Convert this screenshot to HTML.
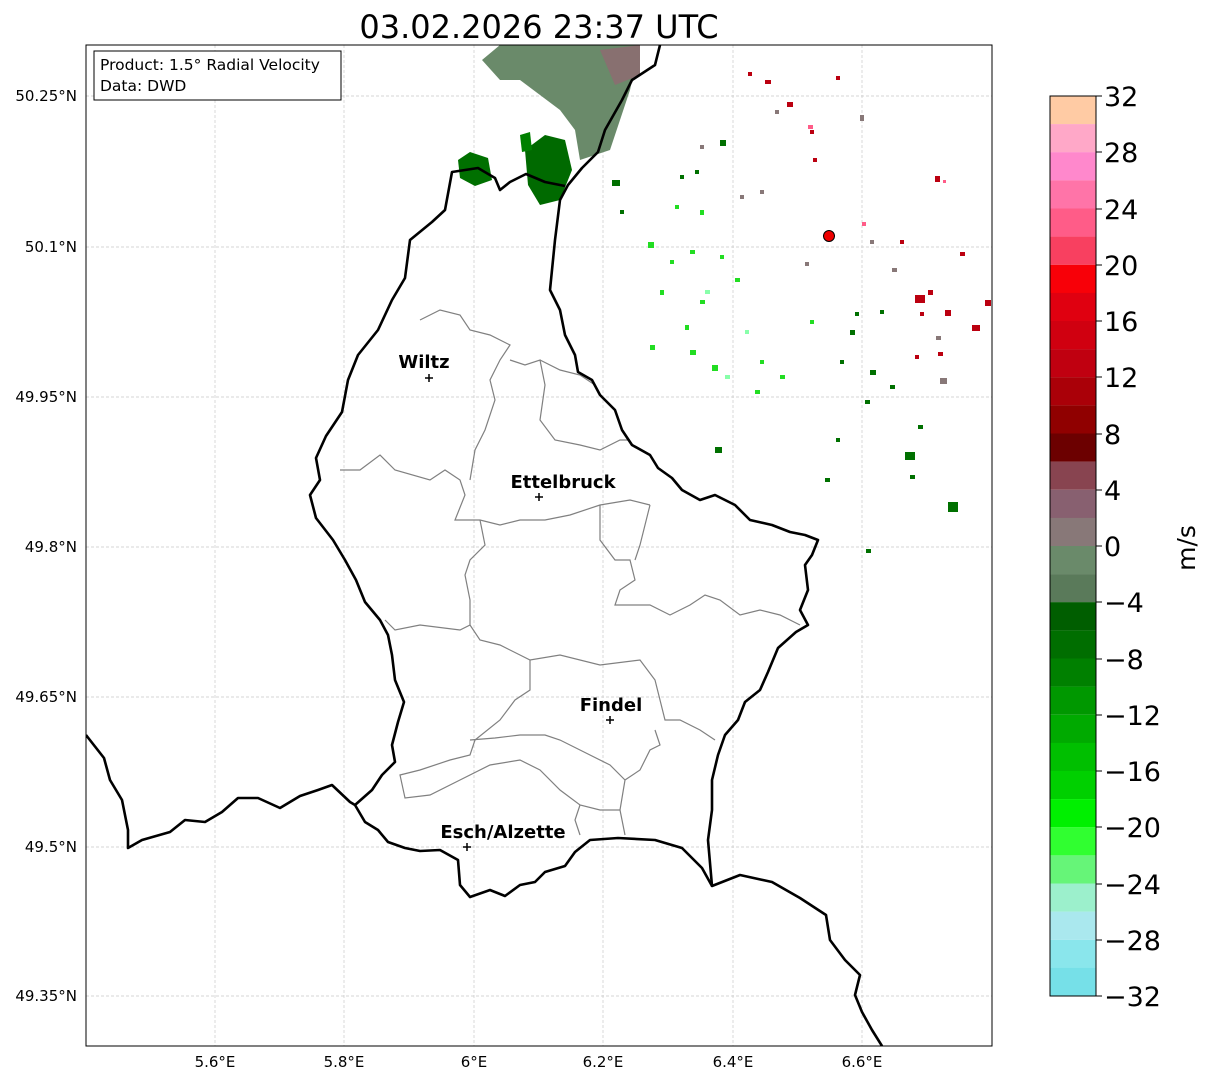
<!DOCTYPE html>
<html><head><meta charset="utf-8"><style>
body{margin:0;background:#fff;}
svg{display:block;font-family:"DejaVu Sans","Liberation Sans",sans-serif;}
</style></head><body>
<svg width="1207" height="1081" viewBox="0 0 1207 1081" xmlns="http://www.w3.org/2000/svg">
<rect width="1207" height="1081" fill="#fff"/>
<text x="539" y="38" font-size="32" text-anchor="middle">03.02.2026 23:37 UTC</text>
<defs><clipPath id="c"><rect x="86" y="45" width="906" height="1001"/></clipPath></defs>
<g clip-path="url(#c)">
<g stroke="#c8c8c8" stroke-width="0.7" stroke-dasharray="3,2">
<line x1="215" y1="45" x2="215" y2="1046"/><line x1="344" y1="45" x2="344" y2="1046"/><line x1="474" y1="45" x2="474" y2="1046"/><line x1="603" y1="45" x2="603" y2="1046"/><line x1="733" y1="45" x2="733" y2="1046"/><line x1="862" y1="45" x2="862" y2="1046"/>
<line x1="86" y1="96" x2="992" y2="96"/><line x1="86" y1="247" x2="992" y2="247"/><line x1="86" y1="397" x2="992" y2="397"/><line x1="86" y1="547" x2="992" y2="547"/><line x1="86" y1="697" x2="992" y2="697"/><line x1="86" y1="847" x2="992" y2="847"/><line x1="86" y1="996" x2="992" y2="996"/>
</g>
<g>
<path d="M482,60 L500,45 L640,45 L630,90 L620,120 L610,150 L580,160 L575,130 L560,110 L520,80 L500,80 Z" fill="#6a8a6a"/>
<path d="M600,50 L640,45 L640,75 L615,85 Z" fill="#887070"/>
<path d="M458,160 L470,152 L488,158 L492,180 L475,186 L460,178 Z" fill="#007000"/>
<path d="M525,150 L545,135 L565,140 L572,170 L560,200 L540,205 L528,185 Z" fill="#006a00"/>
<path d="M520,135 L530,132 L532,150 L522,152 Z" fill="#008000"/>
</g>
<g fill="#22dd22">
<rect x="648" y="242" width="6" height="6"/><rect x="690" y="250" width="5" height="4"/><rect x="660" y="290" width="4" height="5"/><rect x="700" y="300" width="5" height="4"/><rect x="685" y="325" width="4" height="5"/><rect x="650" y="345" width="5" height="5"/><rect x="712" y="365" width="6" height="6"/><rect x="755" y="390" width="5" height="4"/><rect x="720" y="255" width="4" height="4"/><rect x="735" y="278" width="5" height="4"/><rect x="670" y="260" width="4" height="4"/><rect x="760" y="360" width="4" height="4"/><rect x="690" y="350" width="6" height="5"/><rect x="780" y="375" width="5" height="4"/><rect x="700" y="210" width="4" height="5"/><rect x="675" y="205" width="4" height="4"/><rect x="810" y="320" width="4" height="4"/>
</g>
<g fill="#88ffaa"><rect x="705" y="290" width="5" height="4"/><rect x="725" y="375" width="5" height="4"/><rect x="745" y="330" width="4" height="4"/></g>
<g fill="#007000">
<rect x="612" y="180" width="8" height="6"/><rect x="850" y="330" width="5" height="5"/><rect x="870" y="370" width="6" height="5"/><rect x="905" y="452" width="10" height="8"/><rect x="948" y="502" width="10" height="10"/><rect x="715" y="447" width="7" height="6"/><rect x="890" y="385" width="5" height="4"/><rect x="865" y="400" width="5" height="4"/><rect x="840" y="360" width="4" height="4"/><rect x="880" y="310" width="4" height="4"/><rect x="918" y="425" width="5" height="4"/><rect x="825" y="478" width="5" height="4"/><rect x="866" y="549" width="5" height="4"/><rect x="910" y="475" width="5" height="4"/><rect x="720" y="140" width="6" height="6"/><rect x="680" y="175" width="4" height="4"/><rect x="695" y="170" width="4" height="4"/><rect x="620" y="210" width="4" height="4"/><rect x="855" y="312" width="4" height="4"/><rect x="836" y="438" width="4" height="4"/>
</g>
<g fill="#887878">
<rect x="940" y="378" width="7" height="6"/><rect x="892" y="268" width="5" height="4"/><rect x="936" y="336" width="5" height="4"/><rect x="775" y="110" width="4" height="4"/><rect x="860" y="115" width="4" height="6"/><rect x="700" y="145" width="4" height="4"/><rect x="760" y="190" width="4" height="4"/><rect x="805" y="262" width="4" height="4"/><rect x="870" y="240" width="4" height="4"/><rect x="740" y="195" width="4" height="4"/>
</g>
<g fill="#bb0010">
<rect x="765" y="80" width="6" height="4"/><rect x="787" y="102" width="6" height="5"/><rect x="935" y="176" width="5" height="6"/><rect x="915" y="295" width="10" height="8"/><rect x="972" y="325" width="8" height="6"/><rect x="945" y="310" width="6" height="6"/><rect x="900" y="240" width="4" height="4"/><rect x="960" y="252" width="5" height="4"/><rect x="810" y="130" width="4" height="4"/><rect x="813" y="158" width="4" height="4"/><rect x="920" y="312" width="4" height="4"/><rect x="985" y="300" width="6" height="6"/><rect x="928" y="290" width="5" height="5"/><rect x="938" y="352" width="5" height="4"/><rect x="915" y="355" width="4" height="4"/><rect x="836" y="76" width="4" height="4"/><rect x="748" y="72" width="4" height="4"/>
</g>
<g fill="#ff5c88"><rect x="808" y="125" width="5" height="4"/><rect x="862" y="222" width="4" height="4"/><rect x="943" y="180" width="3" height="3"/></g>
<circle cx="829" cy="236" r="5.5" fill="#e00" stroke="#000" stroke-width="1"/>
<g fill="none" stroke="#808080" stroke-width="1.2">
<path d="M340,470 L360,470 L380,455 L395,470 L430,480 L445,470 L460,480 L465,495 L455,520 L480,520 L500,525 L520,520 L545,520 L570,515 L600,505 L630,500 L650,505"/>
<path d="M420,320 L440,310 L460,315 L470,330 L490,335 L510,345 L500,360 L490,380 L495,400 L485,430 L475,450 L470,480"/>
<path d="M510,360 L525,365 L540,360 L545,385 L540,420 L555,440 L580,445 L600,450 L620,440 L630,440"/>
<path d="M540,360 L560,370 L580,375 L595,385"/>
<path d="M480,520 L485,545 L470,560 L465,575 L470,600 L470,625 L460,630 L420,625 L395,630 L385,620"/>
<path d="M600,505 L600,540 L615,560 L630,560 L635,580 L620,590 L615,605 L650,605 L670,615 L690,605 L705,595 L720,600 L740,615 L760,610 L780,615 L800,625"/>
<path d="M650,505 L645,525 L640,545 L635,560"/>
<path d="M470,625 L480,640 L500,645 L520,655 L530,660 L560,655 L600,665 L640,660 L655,680 L660,700 L665,720 L680,720 L700,730 L715,740"/>
<path d="M530,660 L530,690 L515,700 L500,720 L475,740 L470,755 L450,760 L420,770 L400,775 L405,798 L430,795 L460,780 L490,765 L520,760 L540,770 L560,790 L580,805 L600,810 L620,810 L625,780 L640,770 L650,750 L660,745 L655,730"/>
<path d="M470,740 L495,738 L520,735 L545,735 L560,740 L580,750 L610,765 L625,780"/>
<path d="M580,805 L575,820 L580,835 M620,810 L625,835"/>
</g>
<g fill="none" stroke="#000" stroke-width="2.6" stroke-linejoin="round">
<path d="M660,45 L655,65 L632,80 L622,100 L605,130 L598,152 L582,168 L568,185 L560,200 L555,240 L552,270 L550,290 L560,310 L565,335 L575,355 L578,372 L592,380 L600,395 L615,410 L622,430 L632,445 L650,455 L658,468 L672,478 L682,490 L700,500 L715,495 L735,505 L750,520 L772,525 L790,532 L805,535 L818,540 L812,555 L805,565 L808,590 L800,610 L808,625 L796,632 L778,648 L768,672 L760,690 L745,702 L738,720 L725,735 L718,755 L712,780 L712,810 L708,840 L712,886 L740,875 L772,882 L800,898 L826,915 L830,940 L845,960 L860,975 L855,995 L862,1012 L872,1030 L882,1046"/>
<path d="M712,886 L702,868 L682,848 L655,840 L618,838 L590,840 L575,852 L565,866 L545,872 L535,882 L520,885 L505,896 L490,890 L470,897 L460,885 L458,860 L440,850 L420,851 L405,848 L388,842 L378,830 L365,822 L355,805 L372,790 L382,775 L395,762 L392,745 L398,722 L404,702 L395,680 L392,655 L388,635 L380,620 L365,602 L356,580 L345,560 L333,540 L316,518 L310,495 L320,480 L316,458 L326,436 L342,412 L348,380 L358,355 L378,330 L392,300 L405,278 L410,240 L432,222 L445,210 L452,172 L478,168 L495,178 L500,190 L510,182 L526,174 L545,182 L565,186"/>
<path d="M86,735 L104,758 L110,780 L122,800 L128,830 L128,848 L142,840 L170,832 L185,820 L205,822 L222,812 L238,798 L258,798 L280,808 L300,796 L318,790 L332,785 L350,802 L355,805"/>
</g>
<g font-size="18" font-weight="bold" text-anchor="middle">
<text x="424" y="368">Wiltz</text><text x="563" y="488">Ettelbruck</text><text x="611" y="711">Findel</text><text x="503" y="838">Esch/Alzette</text>
</g>
<g stroke="#000" stroke-width="1.5">
<path d="M425,378h8M429,374v8"/><path d="M535,497h8M539,493v8"/><path d="M606,720h8M610,716v8"/><path d="M463,847h8M467,843v8"/>
</g>
</g>
<rect x="86" y="45" width="906" height="1001" fill="none" stroke="#000" stroke-width="1"/>
<rect x="94" y="51" width="247" height="49" fill="#fff" stroke="#000" stroke-width="1"/>
<text x="100" y="70" font-size="15.5">Product: 1.5° Radial Velocity</text>
<text x="100" y="91" font-size="15.5">Data: DWD</text>
<g font-size="15" text-anchor="end">
<text x="77" y="101">50.25°N</text><text x="77" y="252">50.1°N</text><text x="77" y="402">49.95°N</text><text x="77" y="552">49.8°N</text><text x="77" y="702">49.65°N</text><text x="77" y="852">49.5°N</text><text x="77" y="1001">49.35°N</text>
</g>
<g font-size="15" text-anchor="middle">
<text x="215" y="1067">5.6°E</text><text x="344" y="1067">5.8°E</text><text x="474" y="1067">6°E</text><text x="603" y="1067">6.2°E</text><text x="733" y="1067">6.4°E</text><text x="862" y="1067">6.6°E</text>
</g>
<g>
<rect x="1050" y="96.0" width="46" height="28.2" fill="#ffcba4"/>
<rect x="1050" y="124.1" width="46" height="28.2" fill="#ffa8c8"/>
<rect x="1050" y="152.2" width="46" height="28.2" fill="#ff88cc"/>
<rect x="1050" y="180.4" width="46" height="28.2" fill="#ff74a8"/>
<rect x="1050" y="208.5" width="46" height="28.2" fill="#ff5c88"/>
<rect x="1050" y="236.6" width="46" height="28.2" fill="#f84060"/>
<rect x="1050" y="264.8" width="46" height="28.2" fill="#f80008"/>
<rect x="1050" y="292.9" width="46" height="28.2" fill="#e00010"/>
<rect x="1050" y="321.0" width="46" height="28.2" fill="#d00010"/>
<rect x="1050" y="349.1" width="46" height="28.2" fill="#c00010"/>
<rect x="1050" y="377.2" width="46" height="28.2" fill="#aa0008"/>
<rect x="1050" y="405.4" width="46" height="28.2" fill="#900000"/>
<rect x="1050" y="433.5" width="46" height="28.2" fill="#6c0000"/>
<rect x="1050" y="461.6" width="46" height="28.2" fill="#884450"/>
<rect x="1050" y="489.8" width="46" height="28.2" fill="#886070"/>
<rect x="1050" y="517.9" width="46" height="28.2" fill="#887878"/>
<rect x="1050" y="546.0" width="46" height="28.2" fill="#6a8a6a"/>
<rect x="1050" y="574.1" width="46" height="28.2" fill="#5a7a5a"/>
<rect x="1050" y="602.2" width="46" height="28.2" fill="#005e00"/>
<rect x="1050" y="630.4" width="46" height="28.2" fill="#006e00"/>
<rect x="1050" y="658.5" width="46" height="28.2" fill="#008000"/>
<rect x="1050" y="686.6" width="46" height="28.2" fill="#009800"/>
<rect x="1050" y="714.8" width="46" height="28.2" fill="#00aa00"/>
<rect x="1050" y="742.9" width="46" height="28.2" fill="#00bf00"/>
<rect x="1050" y="771.0" width="46" height="28.2" fill="#00d000"/>
<rect x="1050" y="799.1" width="46" height="28.2" fill="#00f000"/>
<rect x="1050" y="827.2" width="46" height="28.2" fill="#30ff30"/>
<rect x="1050" y="855.4" width="46" height="28.2" fill="#66f578"/>
<rect x="1050" y="883.5" width="46" height="28.2" fill="#9cf0cc"/>
<rect x="1050" y="911.6" width="46" height="28.2" fill="#aae8ee"/>
<rect x="1050" y="939.8" width="46" height="28.2" fill="#8ae6ec"/>
<rect x="1050" y="967.9" width="46" height="28.1" fill="#76e0e8"/>
<rect x="1050" y="96" width="46" height="900" fill="none" stroke="#000" stroke-width="1"/>
</g>
<g stroke="#000" stroke-width="1">
<path d="M1096,96h6M1096,152h6M1096,209h6M1096,265h6M1096,321h6M1096,377h6M1096,434h6M1096,490h6M1096,546h6M1096,602h6M1096,659h6M1096,715h6M1096,771h6M1096,827h6M1096,884h6M1096,940h6M1096,996h6"/>
</g>
<g font-size="27">
<text x="1104" y="106">32</text><text x="1104" y="162">28</text><text x="1104" y="219">24</text><text x="1104" y="275">20</text><text x="1104" y="331">16</text><text x="1104" y="387">12</text><text x="1104" y="444">8</text><text x="1104" y="500">4</text><text x="1104" y="556">0</text><text x="1104" y="612">−4</text><text x="1104" y="669">−8</text><text x="1104" y="725">−12</text><text x="1104" y="781">−16</text><text x="1104" y="837">−20</text><text x="1104" y="894">−24</text><text x="1104" y="950">−28</text><text x="1104" y="1006">−32</text>
</g>
<text x="1195" y="548" font-size="25" text-anchor="middle" transform="rotate(-90 1195 548)">m/s</text>
</svg>
</body></html>
